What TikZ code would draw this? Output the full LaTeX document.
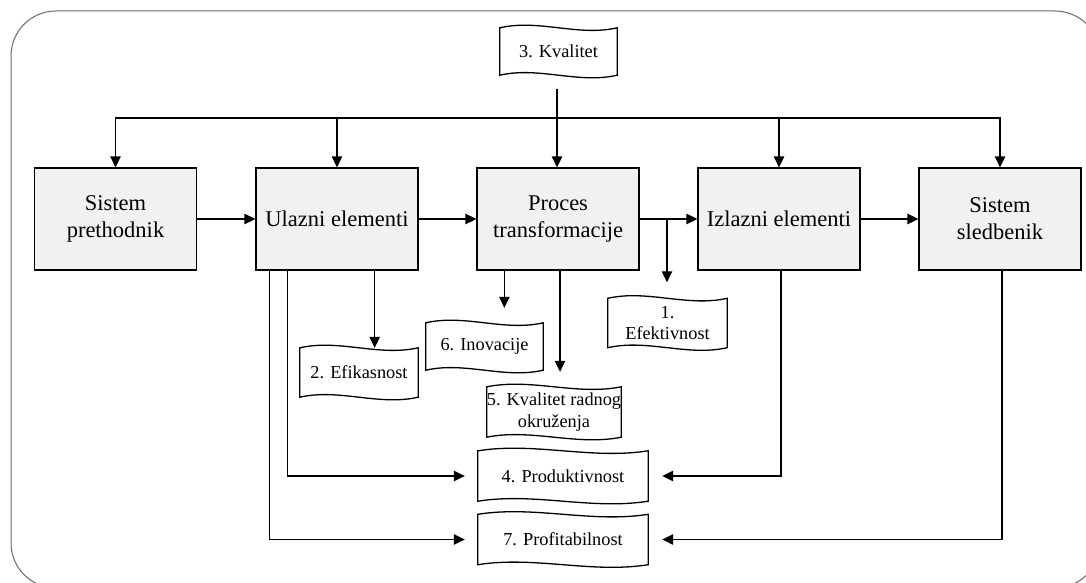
\documentclass[tikz,border=0pt]{standalone}
\usepackage{fontspec}
\setmainfont{Liberation Serif}
\usetikzlibrary{arrows.meta,calc}

\definecolor{boxfill}{RGB}{241,241,241}
\definecolor{framegray}{RGB}{105,105,105}

% wavy "tape" outline drawn around a named node
\newcommand{\tapeoutline}[1]{%
  \draw[tapeedge] let \p1=(#1.north west), \p2=(#1.south east), \n1={(\x2-\x1)/3} in
    (\x1,\y1) .. controls (\x1+\n1,\y1+9pt) and (\x2-\n1,\y1-9pt) .. (\x2,\y1)
    -- (\x2,\y2) .. controls (\x2-\n1,\y2-9pt) and (\x1+\n1,\y2+9pt) .. (\x1,\y2) -- cycle;}

\tikzset{
  mainbox/.style={draw, line width=1.3pt, fill=boxfill, minimum width=162pt,
    minimum height=102pt, align=center, inner sep=0pt,
    font=\fontsize{22.5}{27}\selectfont},
  tapenode/.style={inner sep=0pt, align=center, font=\fontsize{18.3}{21.5}\selectfont},
  tapeedge/.style={line width=1.3pt},
  arr/.style={line width=1.3pt, -{Triangle[length=11pt,width=10.5pt]}},
}

\begin{document}
\begin{tikzpicture}[x=1pt, y=-1pt]
\useasboundingbox (0,0) rectangle (1086,583);

% outer frame
\begin{scope}
  \clip (0,0) rectangle (1086,583);
  \draw[framegray, line width=1pt, rounded corners=45pt] (11,11) rectangle (1100,588);
\end{scope}

% main chain
\node[mainbox] (sp) at (115.5,219) {Sistem\\prethodnik};
\node[mainbox] (ul) at (337,219) {Ulazni elementi};
\node[mainbox] (pr) at (558,219) {Proces\\transformacije};
\node[mainbox] (iz) at (779,219) {Izlazni elementi};
\node[mainbox] (sl) at (1000,219) {Sistem\\sledbenik};

% indicator tapes
\node[tapenode, minimum width=117pt, minimum height=47pt] (kv3) at (558.5,51.5) {3. Kvalitet};
\node[tapenode, minimum width=119pt, minimum height=49pt] (ef1) at (667.5,323) {1.\\Efektivnost};
\node[tapenode, minimum width=118pt, minimum height=49pt] (efi2) at (359,372.5) {2. Efikasnost};
\node[tapenode, minimum width=117pt, minimum height=47pt] (ino6) at (484.5,346.5) {6. Inovacije};
\node[tapenode, minimum width=128pt, minimum height=50pt] (kr5) at (554,412) {5. Kvalitet radnog\\okruženja};
\node[tapenode, minimum width=170pt, minimum height=50pt] (prod4) at (563,476) {4. Produktivnost};
\node[tapenode, minimum width=170pt, minimum height=50pt] (prof7) at (563,539.5) {7. Profitabilnost};

\foreach \t in {kv3,ef1,efi2,ino6,kr5,prod4,prof7} {\tapeoutline{\t}}

% quality feeds every stage
\coordinate (q) at (557,89);
\coordinate (bus) at (557,118);
\draw[arr] (q) -- (q |- pr.north);
\draw[arr] (q) -- (bus) -| (sp.north);
\draw[arr] (q) -- (bus) -| (ul.north);
\draw[arr] (q) -- (bus) -| (iz.north);
\draw[arr] (q) -- (bus) -| (sl.north);

% flow between stages
\draw[arr] (sp) -- (ul);
\draw[arr] (ul) -- (pr);
\draw[arr] (pr) -- (iz);
\draw[arr] (iz) -- (sl);

% effectiveness branch
\coordinate (br) at (667,219);
\draw[arr, shorten >=16pt] (br) -- (br |- ef1.north);

% from input elements
\draw[arr] ($(ul.south east)+(-44,0)$) coordinate (u3) -- (u3 |- efi2.north);
\draw[arr, shorten >=13pt] ($(ul.south west)+(32,0)$) |- (prod4.west);
\draw[arr, shorten >=13pt] ($(ul.south west)+(14,0)$) |- (prof7.west);

% from the transformation process
\draw[arr, shorten >=15pt] ($(pr.south west)+(28,0)$) coordinate (p1) -- (p1 |- ino6.north);
\draw[arr, shorten >=15pt] ($(pr.south)+(2,0)$) coordinate (p2) -- (p2 |- kr5.north);

% from outputs and the successor system
\draw[arr, shorten >=14pt] ($(iz.south)+(2,0)$) |- (prod4.east);
\draw[arr, shorten >=14pt] ($(sl.south)+(2,0)$) |- (prof7.east);
\end{tikzpicture}
\end{document}
